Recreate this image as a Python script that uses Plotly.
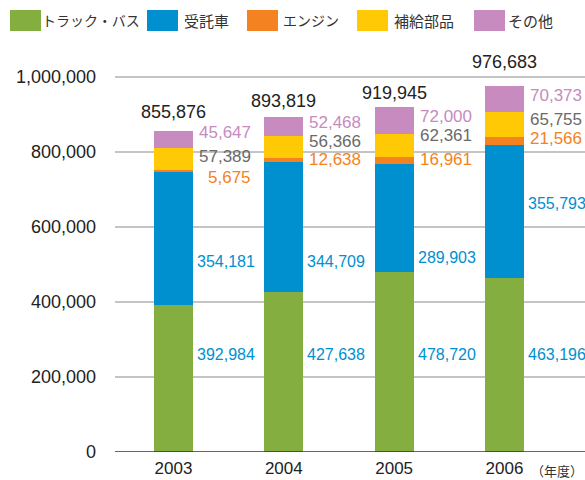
import plotly.graph_objects as go

years = ["2003", "2004", "2005", "2006"]
truck_bus = [392984, 427638, 478720, 463196]
contract = [354181, 344709, 289903, 355793]
engine = [5675, 12638, 16961, 21566]
parts = [57389, 56366, 62361, 65755]
other = [45647, 52468, 72000, 70373]

series = [
    ("トラック・バス", truck_bus, "#84AE3F"),
    ("受託車", contract, "#008FCF"),
    ("エンジン", engine, "#F58220"),
    ("補給部品", parts, "#FFCA05"),
    ("その他", other, "#C78BBF"),
]

# label heights (data units) - hand placed like the original
lbl_green_y = [259000, 259000, 259000, 259000]
lbl_blue_y = [507000, 507000, 520000, 664000]
lbl_other_y = [851000, 880000, 896000, 952000]
lbl_parts_y = [787000, 829000, 843000, 888000]
lbl_engine_y = [731000, 779000, 781000, 837000]
lbl_total_y = [907000, 936000, 957000, 1040000]

FONT = "Liberation Sans, Arial, sans-serif"
JFONT = "Noto Sans CJK JP, sans-serif"
BW = 0.354
x = list(range(len(years)))

# plot area in pixels: left 115, right 585, top 40, bottom 452
PL, PW, PB, PH = 115, 470, 452, 412

fig = go.Figure()
for name, vals, col in series:
    fig.add_trace(go.Bar(x=x, y=vals, name=name, marker_color=col,
                         marker_line_width=0, width=BW, showlegend=False,
                         hoverinfo="y+name"))

def fmt(v):
    return f"{v:,}"

ann = []
for i in x:
    total = truck_bus[i] + contract[i] + engine[i] + parts[i] + other[i]
    ann.append(dict(x=i, y=lbl_total_y[i], text=fmt(total), showarrow=False,
                    font=dict(size=18, color="#222", family=FONT)))
    for vals, ys in [(truck_bus, lbl_green_y), (contract, lbl_blue_y)]:
        ann.append(dict(x=i + BW / 2, y=ys[i], text=fmt(vals[i]), showarrow=False,
                        xanchor="left", xshift=2,
                        font=dict(size=16, color="#0090D0", family=FONT)))
    for vals, ys, col in [(other, lbl_other_y, "#C78BBF"),
                          (parts, lbl_parts_y, "#6A6A6A"),
                          (engine, lbl_engine_y, "#F58220")]:
        ann.append(dict(x=i + BW / 2, y=ys[i], text=fmt(vals[i]), showarrow=False,
                        xanchor="right", xshift=60,
                        font=dict(size=17, color=col, family=FONT)))

ann.append(dict(xref="paper", yref="paper", x=1.0, y=-18 / PH, text="（年度）",
                showarrow=False, xanchor="right", yanchor="middle",
                font=dict(size=13, color="#333", family=JFONT)))

# legend drawn by hand to get the big colour squares
shapes = []
leg_sq = [10, 147, 247, 357, 474]
leg_tx = [40, 182, 281, 392, 506]
leg_fs = [14, 15, 14, 15, 15]
for (name, _, col), sx, tx, fs in zip(series, leg_sq, leg_tx, leg_fs):
    shapes.append(dict(type="rect", xref="paper", yref="paper",
                       x0=(sx - PL) / PW, x1=(sx + 31 - PL) / PW,
                       y0=(PB - 31) / PH, y1=(PB - 10) / PH,
                       fillcolor=col, line_width=0))
    ann.append(dict(xref="paper", yref="paper", x=(tx - PL) / PW,
                    y=(PB - 20) / PH, text=name, showarrow=False,
                    xanchor="left", yanchor="middle",
                    font=dict(size=fs, color="#333", family=JFONT)))

fig.update_layout(
    width=585, height=480,
    margin=dict(l=PL, r=0, t=40, b=28),
    paper_bgcolor="white", plot_bgcolor="white",
    barmode="stack", bargap=0,
    annotations=ann, shapes=shapes,
    xaxis=dict(range=[-0.530, 3.730], tickvals=x, ticktext=years,
               showgrid=False, zeroline=False, showline=False, ticks="",
               ticklabelstandoff=4, automargin=False,
               tickfont=dict(size=17, color="#222", family=FONT)),
    yaxis=dict(range=[0, 1098667], tickvals=[0, 200000, 400000, 600000, 800000, 1000000],
               ticktext=["0", "200,000", "400,000", "600,000", "800,000", "1,000,000"],
               showgrid=True, gridcolor="#C4C4C4", gridwidth=1.5,
               zeroline=False, ticklabelstandoff=18, automargin=False,
               tickfont=dict(size=18, color="#222", family=FONT)),
)
fig.add_hline(y=0, line_color="#333", line_width=1.5)

fig.write_html("out.html", config={"displayModeBar": False},
               post_script="document.body.style.margin='0';")
